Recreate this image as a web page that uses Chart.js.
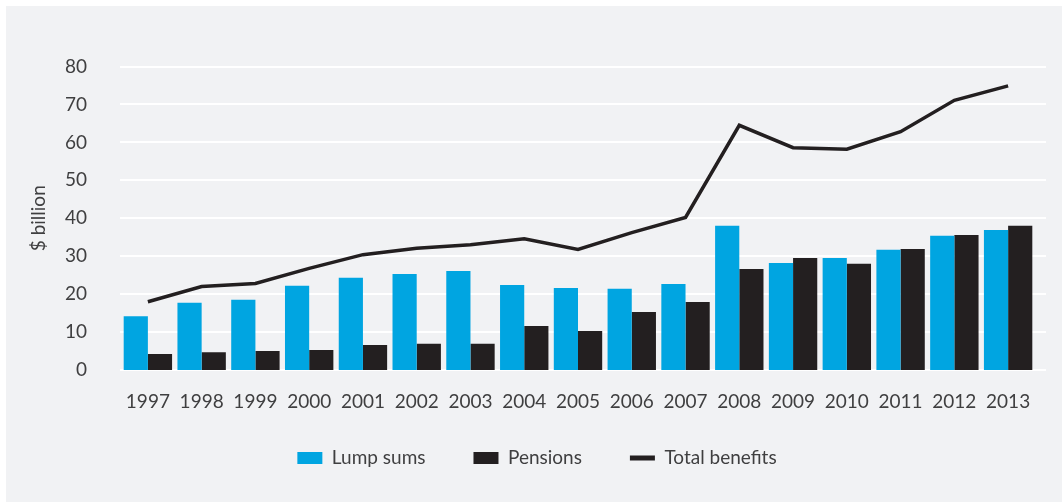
<!DOCTYPE html>
<html>
<head>
  <title>Benefits paid</title>
  <script src="https://cdn.jsdelivr.net/npm/chart.js"></script>
  <style>
    html, body { margin: 0; padding: 0; background: #ffffff; }
    #wrap { width: 1062px; height: 502px; }
  </style>
</head>
<body>
  <div id="wrap">
    <canvas id="benefitsChart" width="1062" height="502"></canvas>
  </div>

  <script>
    // values ($ billion)
    const years = ['1997', '1998', '1999', '2000', '2001', '2002', '2003', '2004', '2005',
      '2006', '2007', '2008', '2009', '2010', '2011', '2012', '2013'];
    const lumpSums = [14.2, 17.7, 18.5, 22.2, 24.3, 25.3, 26.1, 22.4, 21.6, 21.4, 22.7, 38.0, 28.2, 29.5, 31.7, 35.4, 36.9];
    const pensions = [4.2, 4.7, 5.0, 5.3, 6.6, 6.9, 6.9, 11.6, 10.3, 15.3, 17.9, 26.6, 29.5, 28.0, 31.9, 35.6, 38.0];
    const totalBenefits = [18.0, 22.0, 22.8, 26.8, 30.4, 32.1, 33.0, 34.6, 31.8, 36.2, 40.2, 64.5, 58.6, 58.2, 62.8, 71.1, 74.9];
    const yTicks = [0, 10, 20, 30, 40, 50, 60, 70, 80];
    const legendOrder = ['Lump sums', 'Pensions', 'Total benefits'];

    const textColor = '#3f3f40';
    const fontFamily = 'Lato, "Open Sans", sans-serif';

    // gray panel behind everything
    const panelPlugin = {
      id: 'panel',
      beforeDraw(chart) {
        const ctx = chart.ctx;
        ctx.save();
        ctx.fillStyle = '#ffffff';
        ctx.fillRect(0, 0, chart.width, chart.height);
        ctx.fillStyle = '#f1f2f4';
        ctx.fillRect(6, 6, chart.width - 6, chart.height - 6);
        ctx.restore();
      }
    };

    // white gridlines, a bit wider than the plot area like the original
    const gridPlugin = {
      id: 'wideGrid',
      beforeDatasetsDraw(chart) {
        const ctx = chart.ctx;
        const y = chart.scales.y;
        ctx.save();
        ctx.strokeStyle = '#ffffff';
        ctx.lineWidth = 2;
        yTicks.forEach(v => {
          const py = Math.round(y.getPixelForValue(v));
          ctx.beginPath();
          ctx.moveTo(120, py);
          ctx.lineTo(1046, py);
          ctx.stroke();
        });
        ctx.restore();
      }
    };

    const config = {
      type: 'bar',
      data: {
        labels: years,
        datasets: [
          {
            type: 'line',
            label: 'Total benefits',
            data: totalBenefits,
            borderColor: '#231f20',
            backgroundColor: '#231f20',
            borderWidth: 3.5,
            pointRadius: 0,
            tension: 0,
            order: 0
          },
          {
            label: 'Lump sums',
            data: lumpSums,
            backgroundColor: '#00a5e1',
            categoryPercentage: 0.9,
            barPercentage: 1.0,
            order: 1
          },
          {
            label: 'Pensions',
            data: pensions,
            backgroundColor: '#231f20',
            categoryPercentage: 0.9,
            barPercentage: 1.0,
            order: 1
          }
        ]
      },
      options: {
        responsive: false,
        animation: false,
        layout: {
          padding: { left: 12, right: 0, top: 66.5, bottom: 24.5 }
        },
        plugins: {
          tooltip: { enabled: false },
          legend: {
            position: 'bottom',
            labels: {
              color: textColor,
              font: { family: fontFamily, size: 19 },
              usePointStyle: true,
              pointStyleWidth: 25,
              boxWidth: 25,
              boxHeight: 12,
              padding: 48,
              sort: (a, b) => legendOrder.indexOf(a.text) - legendOrder.indexOf(b.text),
              generateLabels(chart) {
                const items = Chart.defaults.plugins.legend.labels.generateLabels(chart);
                return items.map(item => {
                  if (item.text === 'Total benefits') {
                    item.pointStyle = 'line';
                    item.lineWidth = 5;
                    item.strokeStyle = '#231f20';
                  } else {
                    item.pointStyle = 'rect';
                    item.lineWidth = 0;
                  }
                  return item;
                });
              }
            }
          }
        },
        scales: {
          x: {
            grid: { display: false },
            border: { display: false },
            ticks: {
              color: textColor,
              font: { family: fontFamily, size: 19 },
              padding: 12,
              autoSkip: false,
              maxRotation: 0
            },
            afterFit(scale) {
              scale.height = 30.5;
              // the labels hang below this short box, so don't clip them to it
              scale._computeLabelArea = () => null;
            }
          },
          y: {
            min: 0,
            max: 80,
            grid: { display: false },
            border: { display: false },
            ticks: {
              stepSize: 10,
              color: textColor,
              font: { family: fontFamily, size: 19 },
              padding: 26
            },
            title: {
              display: true,
              text: '$ billion',
              color: textColor,
              font: { family: fontFamily, size: 19 },
              padding: { top: 15, bottom: 0 }
            },
            afterFit(scale) { scale.width = 109; }
          },
          y2: {
            type: 'linear',
            position: 'right',
            display: true,
            grid: { display: false },
            border: { display: false },
            ticks: { display: false },
            afterFit(scale) { scale.width = 27; }
          }
        }
      },
      plugins: [panelPlugin, gridPlugin]
    };

    const chart = new Chart(document.getElementById('benefitsChart'), config);
  </script>
</body>
</html>
